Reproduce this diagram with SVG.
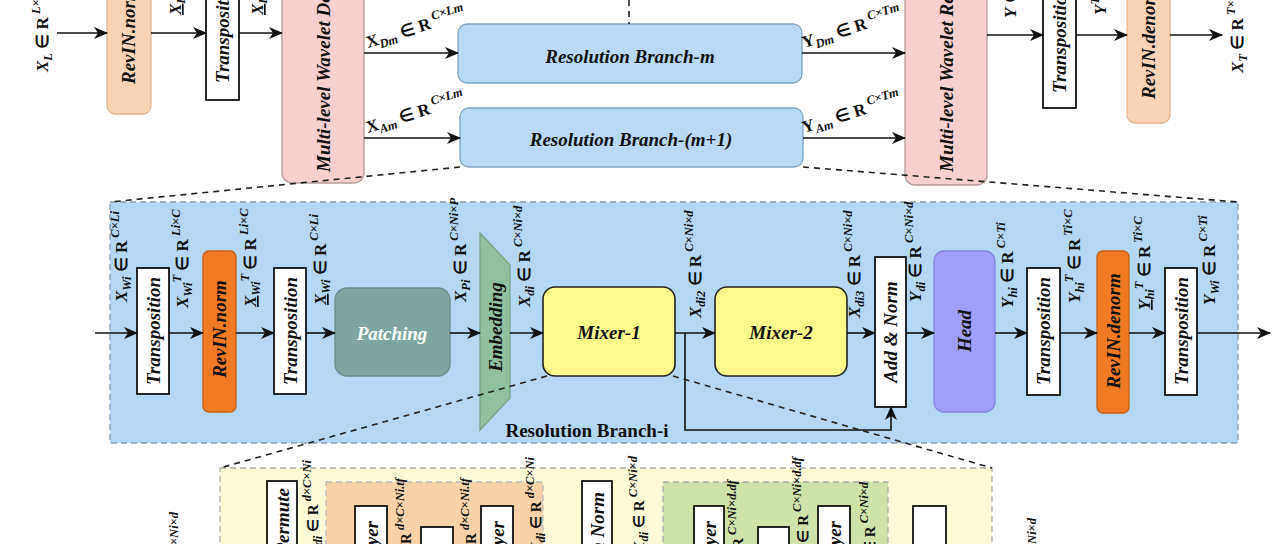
<svg xmlns="http://www.w3.org/2000/svg" width="1280" height="544" viewBox="0 0 1280 544">
<defs>
<marker id="ah" markerWidth="14" markerHeight="12" refX="13" refY="6" orient="auto" markerUnits="userSpaceOnUse"><path d="M0,0 L14,6 L0,12 L4,6 z" fill="#111"/></marker>
<style>
.ln{stroke:#111;stroke-width:1.6;fill:none}
.ar{stroke:#111;stroke-width:1.6;fill:none;marker-end:url(#ah)}
.dsh{stroke:#222;stroke-width:1.6;fill:none;stroke-dasharray:6 5}
.wb{fill:#fff;stroke:#111;stroke-width:1.8}
.bt{font-family:"Liberation Serif",serif;font-size:19px;font-weight:bold;font-style:italic;fill:#111}
.lb{font-family:"Liberation Serif",serif;font-size:17px;font-weight:bold;font-style:italic;fill:#111}
.lb2{font-family:"Liberation Serif",serif;font-size:15px;font-weight:bold;font-style:italic;fill:#111}
.tl{font-family:"Liberation Serif",serif;font-size:17px;font-weight:bold;fill:#111}
.sm{font-size:12.5px}
.up{font-style:normal}
.it{font-style:italic}
.ul{text-decoration:underline}
</style>
</defs>

<!-- background panels -->
<g id="branch-i-panel">
<rect x="110" y="202" width="1128" height="241" fill="#b4d7f6" stroke="#8e9aa6" stroke-width="1.3" stroke-dasharray="6 4"/>
<text x="587" y="437" text-anchor="middle" font-family="Liberation Serif, serif" font-size="19" font-weight="bold" fill="#111">Resolution Branch-i</text>
</g>
<g id="mixer-panel">
<rect x="220" y="468" width="772" height="110" fill="#fdfbd6" stroke="#aaa" stroke-width="1.3" stroke-dasharray="6 4"/>
<rect x="326" y="482" width="217" height="90" fill="#f9d3a7" stroke="#bbb" stroke-width="1.3" stroke-dasharray="6 4"/>
<rect x="663" y="482" width="225" height="90" fill="#cfe3a9" stroke="#aaa" stroke-width="1.3" stroke-dasharray="6 4"/>
</g>

<!-- top section nodes -->
<g id="revin-norm-top">
<rect x="107" y="-30" width="44" height="144" rx="8" fill="#fbd3b5" stroke="#e2b594" stroke-width="1.3"/>
<text class="bt" dominant-baseline="central" transform="translate(128.5,84) rotate(-90)">RevIN.norm</text>
</g>
<g id="transposition-top-1">
<rect class="wb" x="206" y="-30" width="33" height="130"/>
<text class="bt" dominant-baseline="central" transform="translate(222.5,83) rotate(-90)">Transposition</text>
</g>
<g id="wavelet-decomp">
<rect x="282" y="-30" width="82" height="213" rx="10" fill="#f9cfcf" stroke="#b99a9a" stroke-width="1.3"/>
<text class="bt" dominant-baseline="central" transform="translate(323,172) rotate(-90)">Multi-level Wavelet Decomposition</text>
</g>
<g id="branch-m">
<rect x="458" y="24" width="344" height="59" rx="9" fill="#b8daf8" stroke="#7fa4c6" stroke-width="1.3"/>
<text class="bt" x="630" y="56" text-anchor="middle" dominant-baseline="central">Resolution Branch-m</text>
</g>
<g id="branch-m1">
<rect x="460" y="108" width="343" height="59" rx="9" fill="#b8daf8" stroke="#7fa4c6" stroke-width="1.3"/>
<text class="bt" x="631" y="139" text-anchor="middle" dominant-baseline="central">Resolution Branch-(m+1)</text>
</g>
<g id="wavelet-recon">
<rect x="905" y="-30" width="82" height="215" rx="10" fill="#f9cfcf" stroke="#b99a9a" stroke-width="1.3"/>
<text class="bt" dominant-baseline="central" transform="translate(946,172) rotate(-90)">Multi-level Wavelet Reconstruction</text>
</g>
<g id="transposition-top-2">
<rect class="wb" x="1043" y="-30" width="33" height="138"/>
<text class="bt" dominant-baseline="central" transform="translate(1059.5,93) rotate(-90)">Transposition</text>
</g>
<g id="revin-denorm-top">
<rect x="1127" y="-30" width="43" height="153" rx="8" fill="#fbd3b5" stroke="#e2b594" stroke-width="1.3"/>
<text class="bt" dominant-baseline="central" transform="translate(1148.5,99) rotate(-90)">RevIN.denorm</text>
</g>

<!-- branch-i nodes -->
<g id="bi-transposition-1">
<rect class="wb" x="137" y="268" width="32" height="126"/>
<text class="bt" text-anchor="middle" dominant-baseline="central" transform="translate(153,331) rotate(-90)">Transposition</text>
</g>
<g id="bi-revin-norm">
<rect x="203" y="251" width="33" height="161" rx="6" fill="#f17a22" stroke="#c75e12" stroke-width="1.3"/>
<text class="bt" text-anchor="middle" dominant-baseline="central" transform="translate(219.5,329) rotate(-90)">RevIN.norm</text>
</g>
<g id="bi-transposition-2">
<rect class="wb" x="274" y="268" width="32" height="126"/>
<text class="bt" text-anchor="middle" dominant-baseline="central" transform="translate(290,331) rotate(-90)">Transposition</text>
</g>
<g id="bi-patching">
<rect x="335" y="288" width="115" height="88" rx="12" fill="#7fa5a0" stroke="#6b8c88" stroke-width="1.3"/>
<text class="bt" x="392" y="333" text-anchor="middle" dominant-baseline="central" style="fill:#fff">Patching</text>
</g>
<g id="bi-embedding">
<polygon points="480,233 510,265 510,398 480,430" fill="#8fc1a1" stroke="#73a585" stroke-width="1.3"/>
<text class="bt" text-anchor="middle" dominant-baseline="central" transform="translate(495,327) rotate(-90)">Embedding</text>
</g>
<g id="bi-mixer-1">
<rect x="543" y="287" width="132" height="89" rx="12" fill="#fdfa8c" stroke="#222" stroke-width="1.6"/>
<text class="bt" x="609" y="332" text-anchor="middle" dominant-baseline="central">Mixer-1</text>
</g>
<g id="bi-mixer-2">
<rect x="715" y="287" width="132" height="89" rx="12" fill="#fdfa8c" stroke="#222" stroke-width="1.6"/>
<text class="bt" x="781" y="332" text-anchor="middle" dominant-baseline="central">Mixer-2</text>
</g>
<g id="bi-addnorm">
<rect class="wb" x="875" y="257" width="31" height="150"/>
<text class="bt" text-anchor="middle" dominant-baseline="central" transform="translate(890.5,332) rotate(-90)">Add &amp; Norm</text>
</g>
<g id="bi-head">
<rect x="934" y="251" width="61" height="161" rx="10" fill="#a09ef6" stroke="#8585e0" stroke-width="1.3"/>
<text class="bt" text-anchor="middle" dominant-baseline="central" transform="translate(964.5,331) rotate(-90)">Head</text>
</g>
<g id="bi-transposition-3">
<rect class="wb" x="1027" y="268" width="33" height="127"/>
<text class="bt" text-anchor="middle" dominant-baseline="central" transform="translate(1043.5,331) rotate(-90)">Transposition</text>
</g>
<g id="bi-revin-denorm">
<rect x="1097" y="251" width="32" height="162" rx="6" fill="#f17a22" stroke="#c75e12" stroke-width="1.3"/>
<text class="bt" text-anchor="middle" dominant-baseline="central" transform="translate(1113,331) rotate(-90)">RevIN.denorm</text>
</g>
<g id="bi-transposition-4">
<rect class="wb" x="1165" y="268" width="32" height="127"/>
<text class="bt" text-anchor="middle" dominant-baseline="central" transform="translate(1181,331) rotate(-90)">Transposition</text>
</g>

<!-- mixer detail nodes -->
<g id="mx-permute"><rect class="wb" x="267" y="481" width="30" height="90"/>
<text class="bt" text-anchor="end" dominant-baseline="central" transform="translate(282,488) rotate(-90)">Permute</text></g>
<g id="mx-layer-1"><rect class="wb" x="355" y="506" width="32" height="70"/>
<text class="bt" text-anchor="end" dominant-baseline="central" transform="translate(371,521) rotate(-90)">Linear Layer</text></g>
<g id="mx-small-1"><rect class="wb" x="421" y="527" width="32" height="40"/></g>
<g id="mx-layer-2"><rect class="wb" x="481" y="506" width="32" height="70"/>
<text class="bt" text-anchor="end" dominant-baseline="central" transform="translate(497,521) rotate(-90)">Linear Layer</text></g>
<g id="mx-batchnorm"><rect class="wb" x="582" y="481" width="30" height="90"/>
<text class="bt" text-anchor="end" dominant-baseline="central" transform="translate(597,492) rotate(-90)">Batch Norm</text></g>
<g id="mx-layer-3"><rect class="wb" x="694" y="506" width="30" height="70"/>
<text class="bt" text-anchor="end" dominant-baseline="central" transform="translate(709,521) rotate(-90)">Linear Layer</text></g>
<g id="mx-small-2"><rect class="wb" x="758" y="527" width="31" height="40"/></g>
<g id="mx-layer-4"><rect class="wb" x="818" y="506" width="32" height="70"/>
<text class="bt" text-anchor="end" dominant-baseline="central" transform="translate(834,521) rotate(-90)">Linear Layer</text></g>
<g id="mx-last"><rect class="wb" x="913" y="506" width="33" height="70"/></g>

<!-- connectors -->
<g id="connectors">
<line class="ar" x1="57" y1="33" x2="107" y2="33"/>
<line class="ar" x1="151" y1="33" x2="206" y2="33"/>
<line class="ar" x1="239" y1="33" x2="282" y2="33"/>
<line class="ar" x1="364" y1="53" x2="458" y2="53"/>
<line class="ar" x1="364" y1="138" x2="460" y2="138"/>
<line class="ar" x1="802" y1="53" x2="905" y2="53"/>
<line class="ar" x1="803" y1="138" x2="905" y2="138"/>
<line class="ar" x1="987" y1="35" x2="1043" y2="35"/>
<line class="ar" x1="1076" y1="35" x2="1127" y2="35"/>
<line class="ar" x1="1170" y1="35" x2="1222" y2="35"/>
<line class="dsh" x1="629" y1="0" x2="629" y2="24"/>
<line class="dsh" x1="460" y1="167" x2="110" y2="202"/>
<line class="dsh" x1="803" y1="167" x2="1238" y2="202"/>

<line class="ar" x1="95" y1="333" x2="137" y2="333"/>
<line class="ar" x1="169" y1="333" x2="203" y2="333"/>
<line class="ar" x1="236" y1="333" x2="274" y2="333"/>
<line class="ar" x1="306" y1="333" x2="335" y2="333"/>
<line class="ar" x1="450" y1="333" x2="480" y2="333"/>
<line class="ar" x1="510" y1="333" x2="543" y2="333"/>
<line class="ar" x1="675" y1="333" x2="715" y2="333"/>
<line class="ar" x1="847" y1="333" x2="875" y2="333"/>
<line class="ar" x1="906" y1="333" x2="934" y2="333"/>
<line class="ar" x1="995" y1="333" x2="1027" y2="333"/>
<line class="ar" x1="1060" y1="333" x2="1097" y2="333"/>
<line class="ar" x1="1129" y1="333" x2="1165" y2="333"/>
<line class="ar" x1="1197" y1="333" x2="1270" y2="333"/>
<polyline class="ar" points="685,333 685,430 891,430 891,407"/>
<line class="dsh" x1="547" y1="376" x2="220" y2="468"/>
<line class="dsh" x1="673" y1="376" x2="992" y2="468"/>
</g>

<!-- top labels -->
<g id="top-labels">
<text class="lb" transform="translate(48,72) rotate(-90)">X<tspan class="sm" dy="4">L</tspan><tspan class="up" dy="-4"> ∈ R</tspan><tspan class="sm" dy="-8"> L×C</tspan></text>
<text class="lb" transform="translate(181,15) rotate(-90)"><tspan class="ul">X</tspan><tspan class="sm" dy="4">L</tspan><tspan class="up" dy="-4"> ∈ R</tspan><tspan class="sm" dy="-8"> L×C</tspan></text>
<text class="lb" transform="translate(263,15) rotate(-90)"><tspan class="ul">X</tspan><tspan class="sm" dy="4">L</tspan><tspan class="sm" dy="-11">T</tspan><tspan class="up" dy="7"> ∈ R</tspan><tspan class="sm" dy="-8"> C×L</tspan></text>
<text class="tl" transform="translate(368,48) rotate(-17)">X<tspan class="sm it" dy="4">Dm</tspan><tspan dy="-4"> ∈ R</tspan><tspan class="sm it" dy="-8"> C×Lm</tspan></text>
<text class="tl" transform="translate(368,133) rotate(-17)">X<tspan class="sm it" dy="4">Am</tspan><tspan dy="-4"> ∈ R</tspan><tspan class="sm it" dy="-8"> C×Lm</tspan></text>
<text class="tl" transform="translate(804,48) rotate(-17)">Y<tspan class="sm it" dy="4">Dm</tspan><tspan dy="-4"> ∈ R</tspan><tspan class="sm it" dy="-8"> C×Tm</tspan></text>
<text class="tl" transform="translate(804,133) rotate(-17)">Y<tspan class="sm it" dy="4">Am</tspan><tspan dy="-4"> ∈ R</tspan><tspan class="sm it" dy="-8"> C×Tm</tspan></text>
<text class="lb" transform="translate(1016,18) rotate(-90)">Y<tspan class="up"> ∈ R</tspan><tspan class="sm" dy="-8"> C×T</tspan></text>
<text class="lb" transform="translate(1106,15) rotate(-90)">Y<tspan class="sm" dy="-7">T</tspan><tspan class="up" dy="7"> ∈ R</tspan><tspan class="sm" dy="-8"> T×C</tspan></text>
<text class="lb" transform="translate(1243,73) rotate(-90)">X<tspan class="sm" dy="4">T</tspan><tspan class="up" dy="-4"> ∈ R</tspan><tspan class="sm" dy="-8"> T×C</tspan></text>
</g>

<!-- branch-i labels -->
<g id="bi-labels">
<text class="lb" transform="translate(127,302) rotate(-90)">X<tspan class="sm" dy="4">Wi</tspan><tspan class="up" dy="-4"> ∈ R</tspan><tspan class="sm" dy="-8"> C×Li</tspan></text>
<text class="lb" transform="translate(188,308) rotate(-90)">X<tspan class="sm" dy="4">Wi</tspan><tspan class="sm" dy="-11">T</tspan><tspan class="up" dy="7"> ∈ R</tspan><tspan class="sm" dy="-8"> Li×C</tspan></text>
<text class="lb" transform="translate(256,307) rotate(-90)"><tspan class="ul">X</tspan><tspan class="sm" dy="4">Wi</tspan><tspan class="sm" dy="-11">T</tspan><tspan class="up" dy="7"> ∈ R</tspan><tspan class="sm" dy="-8"> Li×C</tspan></text>
<text class="lb" transform="translate(326,305) rotate(-90)"><tspan class="ul">X</tspan><tspan class="sm" dy="4">Wi</tspan><tspan class="up" dy="-4"> ∈ R</tspan><tspan class="sm" dy="-8"> C×Li</tspan></text>
<text class="lb" transform="translate(466,302) rotate(-90)">X<tspan class="sm" dy="4">Pi</tspan><tspan class="up" dy="-4"> ∈ R</tspan><tspan class="sm" dy="-8"> C×Ni×P</tspan></text>
<text class="lb" transform="translate(530,307) rotate(-90)">X<tspan class="sm" dy="4">di</tspan><tspan class="up" dy="-4"> ∈ R</tspan><tspan class="sm" dy="-8"> C×Ni×d</tspan></text>
<text class="lb" transform="translate(701,318) rotate(-90)">X<tspan class="sm" dy="4">di2</tspan><tspan class="up" dy="-4"> ∈ R</tspan><tspan class="sm" dy="-8"> C×Ni×d</tspan></text>
<text class="lb" transform="translate(860,318) rotate(-90)">X<tspan class="sm" dy="4">di3</tspan><tspan class="up" dy="-4"> ∈ R</tspan><tspan class="sm" dy="-8"> C×Ni×d</tspan></text>
<text class="lb" transform="translate(921,302) rotate(-90)">Y<tspan class="sm" dy="4">di</tspan><tspan class="up" dy="-4"> ∈ R</tspan><tspan class="sm" dy="-8"> C×Ni×d</tspan></text>
<text class="lb" transform="translate(1013,308) rotate(-90)">Y<tspan class="sm" dy="4">hi</tspan><tspan class="up" dy="-4"> ∈ R</tspan><tspan class="sm" dy="-8"> C×Ti</tspan></text>
<text class="lb" transform="translate(1080,303) rotate(-90)">Y<tspan class="sm" dy="4">hi</tspan><tspan class="sm" dy="-11">T</tspan><tspan class="up" dy="7"> ∈ R</tspan><tspan class="sm" dy="-8"> Ti×C</tspan></text>
<text class="lb" transform="translate(1150,310) rotate(-90)"><tspan class="ul">Y</tspan><tspan class="sm" dy="4">hi</tspan><tspan class="sm" dy="-11">T</tspan><tspan class="up" dy="7"> ∈ R</tspan><tspan class="sm" dy="-8"> Ti×C</tspan></text>
<text class="lb" transform="translate(1215,305) rotate(-90)">Y<tspan class="sm" dy="4">Wi</tspan><tspan class="up" dy="-4"> ∈ R</tspan><tspan class="sm" dy="-8"> C×Ti</tspan></text>
</g>

<!-- mixer labels -->
<g id="mx-labels">
<text class="lb2" text-anchor="end" transform="translate(185,512) rotate(-90)">X<tspan class="sm" dy="4">di</tspan><tspan class="up" dy="-4"> ∈ R</tspan><tspan class="sm" dy="-7"> C×Ni×d</tspan></text>
<text class="lb2" text-anchor="end" transform="translate(318,460) rotate(-90)">X<tspan class="sm" dy="4">di</tspan><tspan class="up" dy="-4"> ∈ R</tspan><tspan class="sm" dy="-7"> d×C×Ni</tspan></text>
<text class="lb2" text-anchor="end" transform="translate(411,478) rotate(-90)">X<tspan class="up"> ∈ R</tspan><tspan class="sm" dy="-7"> d×C×Ni.tf</tspan></text>
<text class="lb2" text-anchor="end" transform="translate(476,478) rotate(-90)">X<tspan class="up"> ∈ R</tspan><tspan class="sm" dy="-7"> d×C×Ni.tf</tspan></text>
<text class="lb2" text-anchor="end" transform="translate(541,457) rotate(-90)">X<tspan class="sm" dy="4">di</tspan><tspan class="up" dy="-4"> ∈ R</tspan><tspan class="sm" dy="-7"> d×C×Ni</tspan></text>
<text class="lb2" text-anchor="end" transform="translate(644,456) rotate(-90)">X<tspan class="sm" dy="4">di</tspan><tspan class="up" dy="-4"> ∈ R</tspan><tspan class="sm" dy="-7"> C×Ni×d</tspan></text>
<text class="lb2" text-anchor="end" transform="translate(743,480) rotate(-90)">X<tspan class="up"> ∈ R</tspan><tspan class="sm" dy="-7"> C×Ni×d.df</tspan></text>
<text class="lb2" text-anchor="end" transform="translate(808,457) rotate(-90)">X<tspan class="up"> ∈ R</tspan><tspan class="sm" dy="-7"> C×Ni×d.df</tspan></text>
<text class="lb2" text-anchor="end" transform="translate(875,482) rotate(-90)">X<tspan class="up"> ∈ R</tspan><tspan class="sm" dy="-7"> C×Ni×d</tspan></text>
<text class="lb2" text-anchor="end" transform="translate(1043,518) rotate(-90)">X<tspan class="sm" dy="4">di</tspan><tspan class="up" dy="-4"> ∈ R</tspan><tspan class="sm" dy="-7"> C×Ni×d</tspan></text>
</g>
</svg>
